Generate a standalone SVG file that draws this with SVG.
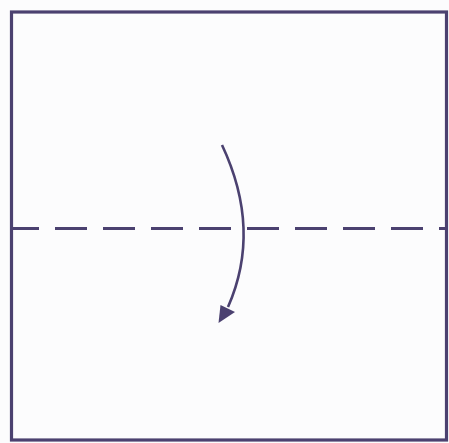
<svg xmlns="http://www.w3.org/2000/svg" width="449" height="443" viewBox="0 0 449 443">
<style>
.ink{stroke:#4b4170;fill:none}
</style>
<rect width="449" height="443" fill="#fcfcfd"/>
<g id="paper">
<rect class="ink" x="11.5" y="12" width="435" height="428" stroke-width="3.2"/>
</g>
<g id="connectors">
<line class="ink" x1="12" y1="228.5" x2="447" y2="228.5" stroke-width="3" stroke-dasharray="32 16" stroke-dashoffset="5"/>
<path class="ink" d="M222,145 Q262,230 228,307" stroke-width="2.6"/>
<polygon points="218.5,323 220.5,305 235,312" fill="#4b4170"/>
</g>
</svg>
